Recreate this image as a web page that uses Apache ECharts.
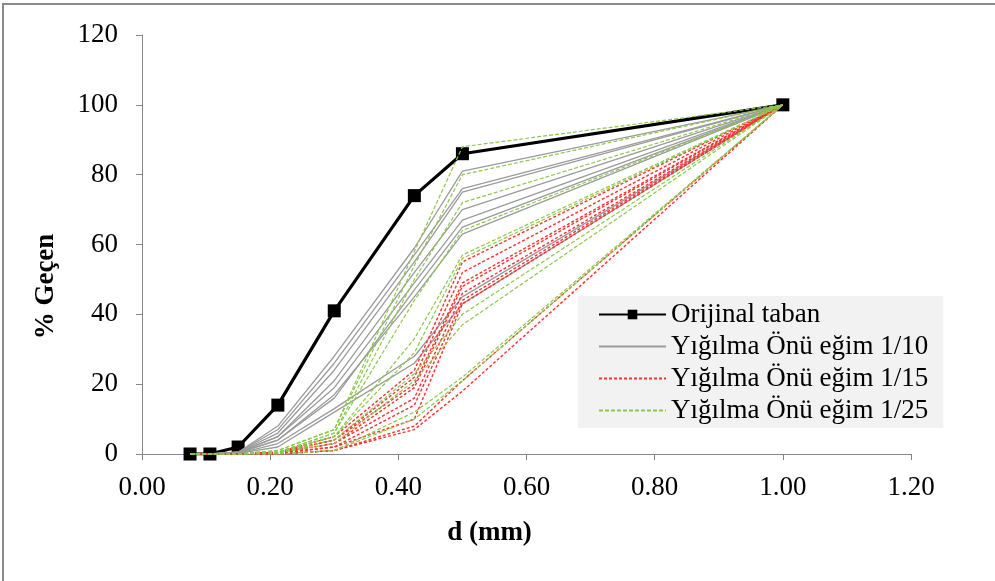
<!DOCTYPE html>
<html>
<head>
<meta charset="utf-8">
<script src="https://cdn.jsdelivr.net/npm/echarts@6/dist/echarts.min.js"></script>
<style>
html,body{margin:0;padding:0;background:#fff;}
#frame{position:absolute;left:2px;top:3px;width:993px;height:578px;border-top:2px solid #8a8a8a;border-left:2px solid #8a8a8a;box-sizing:border-box;}
#chart{position:absolute;left:0;top:0;width:995px;height:581px;}
</style>
</head>
<body>
<div id="frame"></div>
<div id="chart"></div>
<script>
// Sieve sizes d (mm)
const sieveSizes = [0.075, 0.106, 0.15, 0.212, 0.3, 0.425, 0.5, 1.0];
const xTickLabels = ['0.00','0.20','0.40','0.60','0.80','1.00','1.20'];
const yTickLabels = ['0','20','40','60','80','100','120'];

const seriesNames = ['Orijinal taban', 'Yığılma Önü eğim 1/10', 'Yığılma Önü eğim 1/15', 'Yığılma Önü eğim 1/25'];

// % passing of the original bed
const originalBed = [0, 0, 2, 14, 41, 74, 86, 100];

// Slope 1/10 runs (grey)
const slope10 = [
  [0, 0, 0.5, 8, 28, 59, 81, 100],
  [0, 0, 0.5, 7, 26, 57, 76, 100],
  [0, 0, 0.5, 6, 24, 55, 75, 100],
  [0, 0, 0.5, 5, 21, 52, 70, 100],
  [0, 0, 0.3, 5, 19, 49, 67, 100],
  [0, 0, 0.3, 4, 16, 47, 65, 100],
  [0, 0, 0.3, 4, 17, 45, 63, 100],
  [0, 0, 0.2, 3, 13, 28, 45, 100],
  [0, 0, 0.2, 2, 12, 26, 43, 100]
];

// Slope 1/15 runs (red dashed)
const slope15 = [
  [0, 0, 0, 0.5, 5, 24, 55, 100],
  [0, 0, 0, 0.5, 4, 22, 52, 100],
  [0, 0, 0, 0.3, 4, 20, 49, 100],
  [0, 0, 0, 0.3, 3, 19, 48, 100],
  [0, 0, 0, 0.3, 3, 16, 46, 100],
  [0, 0, 0, 0.2, 2, 14, 44, 100],
  [0, 0, 0, 0.2, 2, 10, 43, 100],
  [0, 0, 0, 0, 1, 8, 21, 100],
  [0, 0, 0, 0, 1, 7, 18, 100]
];

// Slope 1/25 runs (green dashed)
const slope25 = [
  [0, 0, 0, 1, 7, 58, 88, 100],
  [0, 0, 0, 1, 7, 54, 80, 100],
  [0, 0, 0, 0.5, 6, 50, 72, 100],
  [0, 0, 0, 0.5, 6, 44, 64, 100],
  [0, 0, 0, 0.5, 5, 33, 57, 100],
  [0, 0, 0, 0.5, 5, 29, 56, 100],
  [0, 0, 0, 0.3, 4, 23, 40, 100],
  [0, 0, 0, 0.3, 3, 21, 37, 100],
  [0, 0, 0, 0, 1, 12, 22, 100],
  [0, 0, 0, 0, 1, 10, 21, 100]
];

const FONT = 'Liberation Serif, Times New Roman, serif';
const toPairs = vals => sieveSizes.map((x, i) => [x, vals[i]]);

const series = [];
series.push({
  name: seriesNames[0], type: 'line', data: toPairs(originalBed),
  symbol: 'rect', symbolSize: 13, showSymbol: true,
  lineStyle: { color: '#000', width: 3.2 }, itemStyle: { color: '#000' },
  z: 3, animation: false
});
slope10.forEach(v => series.push({
  name: seriesNames[1], type: 'line', data: toPairs(v), symbol: 'none',
  lineStyle: { color: '#9b9b9b', width: 1.3 }, itemStyle: { color: '#9b9b9b' },
  z: 4, animation: false
}));
slope15.forEach(v => series.push({
  name: seriesNames[2], type: 'line', data: toPairs(v), symbol: 'none',
  lineStyle: { color: '#ff3030', width: 1.4, type: [3, 2] }, itemStyle: { color: '#ff3030' },
  z: 5, animation: false
}));
slope25.forEach(v => series.push({
  name: seriesNames[3], type: 'line', data: toPairs(v), symbol: 'none',
  lineStyle: { color: '#8cc84b', width: 1.2, type: [4, 2] }, itemStyle: { color: '#8cc84b' },
  z: 6, animation: false
}));

const chart = echarts.init(document.getElementById('chart'), null, { renderer: 'canvas' });
chart.setOption({
  backgroundColor: 'transparent',
  animation: false,
  grid: { left: 142, right: 84, top: 35, bottom: 127, containLabel: false },
  legend: {
    orient: 'vertical', left: 578, top: 296,
    backgroundColor: '#f2f2f2', borderWidth: 0,
    padding: [5, 15, 4, 20],
    itemWidth: 67, itemHeight: 12, itemGap: 5,
    textStyle: { fontFamily: FONT, fontSize: 27, color: '#000', lineHeight: 27 },
    data: seriesNames.map((n, i) => i === 0
      ? { name: n }
      : { name: n, itemStyle: { opacity: 0 } })
  },
  xAxis: {
    type: 'value', min: 0, max: 1.2, interval: 0.2,
    name: 'd (mm)', nameLocation: 'middle', nameGap: 66,
    nameTextStyle: { fontFamily: FONT, fontSize: 27, fontWeight: 'bold', color: '#000',
      padding: [0, 74, 0, 0] },
    axisLine: { show: true, onZero: false, lineStyle: { color: '#868686', width: 1 } },
    axisTick: { show: true, length: 6, inside: false, lineStyle: { color: '#868686' } },
    axisLabel: { fontFamily: FONT, fontSize: 27, color: '#000', margin: 20,
      formatter: (v) => xTickLabels[Math.round(v / 0.2)] },
    splitLine: { show: false }
  },
  yAxis: {
    type: 'value', min: 0, max: 120, interval: 20,
    name: '% Geçen', nameLocation: 'middle', nameGap: 82,
    nameTextStyle: { fontFamily: FONT, fontSize: 27, fontWeight: 'bold', color: '#000',
      padding: [0, 84, 0, 0] },
    axisLine: { show: true, lineStyle: { color: '#868686', width: 1 } },
    axisTick: { show: true, length: 6, inside: false, lineStyle: { color: '#868686' } },
    axisLabel: { fontFamily: FONT, fontSize: 27, color: '#000', margin: 24,
      formatter: (v) => yTickLabels[Math.round(v / 20)] },
    splitLine: { show: false }
  },
  series: series
});
</script>
</body>
</html>
